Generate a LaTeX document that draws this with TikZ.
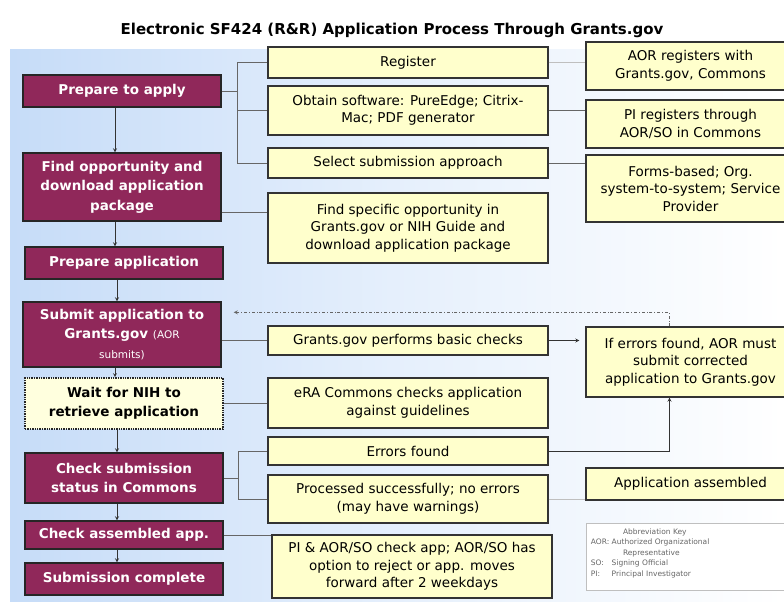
\documentclass[tikz,border=0pt]{standalone}
\usepackage{fontspec}
\setmainfont{DejaVu Sans}
\usetikzlibrary{arrows}
\definecolor{plum}{RGB}{144,40,90}
\definecolor{note}{RGB}{255,255,204}
\definecolor{waitfill}{RGB}{255,255,222}
\definecolor{skyish}{RGB}{198,220,248}
\newcommand{\smallnote}[1]{{\mdseries\fontsize{10.5}{19}\selectfont #1}}
\tikzset{
  stepbox/.style={draw=black!85, line width=1.4pt, fill=plum, text=white,
    font=\bfseries\fontsize{13.5}{19.5}\selectfont, minimum width=198pt,
    align=center, inner sep=2pt},
  waitbox/.style={stepbox, fill=waitfill, text=black, densely dotted,
    line width=1.6pt},
  notebox/.style={draw=black!80, line width=1.2pt, fill=note,
    font=\fontsize{13.5}{17.5}\selectfont, minimum width=280pt,
    align=center, inner sep=2pt},
  sidebox/.style={notebox, minimum width=209pt},
  link/.style={draw=black!60, line width=0.8pt},
  faint/.style={draw=black!25, line width=0.8pt},
  flow/.style={->, >=stealth, draw=black!80, line width=0.8pt}
}
\begin{document}
\begin{tikzpicture}[x=1pt, y=-1pt]
\useasboundingbox (0,0) rectangle (784,602);
\clip (0,0) rectangle (784,602);
\shade[left color=skyish, right color=white, middle color=skyish!45] (10,50) rectangle (784,602);

\node[font=\bfseries\fontsize{15}{18}\selectfont] (title) at (392,30)
  {Electronic SF424 (R\&R) Application Process Through Grants.gov};

% steps on the left
\node[stepbox, minimum height=32pt] (prep) at (122,91) {Prepare to apply};
\node[stepbox, minimum height=68pt] (find) at (122,187)
  {Find opportunity and\\download application\\package};
\node[stepbox, minimum height=32pt] (prepapp) at (124,263) {Prepare application};
\node[stepbox, minimum height=65pt] (submit) at (122,334.5)
  {Submit application to\\Grants.gov \smallnote{(AOR}\\\smallnote{submits)}};
\node[waitbox, minimum height=51pt] (wait) at (124,403.5)
  {Wait for NIH to\\retrieve application};
\node[stepbox, minimum height=50pt] (chksub) at (124,478)
  {Check submission\\status in Commons};
\node[stepbox, minimum height=28pt] (chkasm) at (124,535) {Check assembled app.};
\node[stepbox, minimum height=32pt] (done) at (124,579) {Submission complete};

% middle column
\node[notebox, minimum height=31pt] (reg) at (408,62.5) {Register};
\node[notebox, minimum height=49pt] (obt) at (408,110.5)
  {Obtain software: PureEdge; Citrix-\\Mac; PDF generator};
\node[notebox, minimum height=30pt] (sel) at (408,163) {Select submission approach};
\node[notebox, minimum height=70pt] (spec) at (408,228)
  {Find specific opportunity in\\Grants.gov or NIH Guide and\\download application package};
\node[notebox, minimum height=29pt] (chk) at (408,340.5) {Grants.gov performs basic checks};
\node[notebox, minimum height=50pt] (era) at (408,403)
  {eRA Commons checks application\\against guidelines};
\node[notebox, minimum height=28pt] (errf) at (408,451) {Errors found};
\node[notebox, minimum height=48pt] (proc) at (408,499)
  {Processed successfully; no errors\\(may have warnings)};
\node[notebox, minimum height=63pt] (pichk) at (412,566.5)
  {PI \& AOR/SO check app; AOR/SO has\\option to reject or app. moves\\forward after 2 weekdays};

% right column
\node[sidebox, minimum height=48pt] (aor) at (690.5,66)
  {AOR registers with\\Grants.gov, Commons};
\node[sidebox, minimum height=48pt] (pireg) at (690.5,124)
  {PI registers through\\AOR/SO in Commons};
\node[sidebox, minimum height=67pt] (forms) at (690.5,188.5)
  {Forms-based; Org.\\system-to-system; Service\\Provider};
\node[sidebox, minimum height=70pt] (iferr) at (690.5,362)
  {If errors found, AOR must\\submit corrected\\application to Grants.gov};
\node[sidebox, minimum height=32pt] (appas) at (690.5,484) {Application assembled};
\node[draw=black!25, fill=white, line width=0.5pt, minimum width=209pt,
  minimum height=67pt] (key) at (690.5,556.5) {};
\node[anchor=north west, text=black!60, font=\fontsize{7.5}{10.5}\selectfont,
  inner sep=0pt] (keytxt) at ([xshift=5pt,yshift=-4pt]key.north west)
  {\begin{tabular}{@{}l@{\ }l@{}}
   & \hspace{1.5em}Abbreviation Key\\
   AOR: & Authorized Organizational\\
   & \hspace{1.5em}Representative\\
   SO: & Signing Official\\
   PI: & Principal Investigator
   \end{tabular}};

% down the left column
\foreach \a/\b in {prep/find, find/prepapp, prepapp/submit, submit/wait,
  wait/chksub, chksub/chkasm, chkasm/done}
  \draw[flow] ([xshift=-7pt]\a.south) -- ([xshift=-7pt]\a.south |- \b.north);

% branches
\coordinate (brA) at ([xshift=16pt]prep.east);
\draw[link] (prep.east) -- (brA);
\foreach \n in {reg,obt,sel} \draw[link] (brA) |- (\n.west);
\draw[link] ([yshift=-25pt]find.east) -- ([yshift=-25pt]find.east -| spec.west);
\draw[link] (submit.east |- chk.west) -- (chk.west);
\draw[link] (wait.east |- era.west) -- (era.west);
\coordinate (brB) at ([xshift=15pt]chksub.east);
\draw[link] (chksub.east) -- (brB);
\foreach \n in {errf,proc} \draw[link] (brB) |- (\n.west);
\draw[link] (chkasm.east) -- (chkasm.east -| pichk.west);

% to the right column
\draw[faint] (reg.east) -- (reg.east -| aor.west);
\draw[link] (obt.east) -- (obt.east -| pireg.west);
\draw[link] (sel.east) -- (sel.east -| forms.west);
\draw[faint] (proc.east) -- (proc.east -| appas.west);
\draw[flow, shorten >=6pt] (chk.east) -- (chk.east -| iferr.west);
\coordinate (loopx) at ([xshift=-21pt]iferr.south);
\draw[flow] (errf.east) -| (loopx);
\draw[flow, dash dot, draw=black!60] ([xshift=-21pt]iferr.north)
  |- ([xshift=12pt,yshift=-11pt]submit.north east);
\end{tikzpicture}
\end{document}
